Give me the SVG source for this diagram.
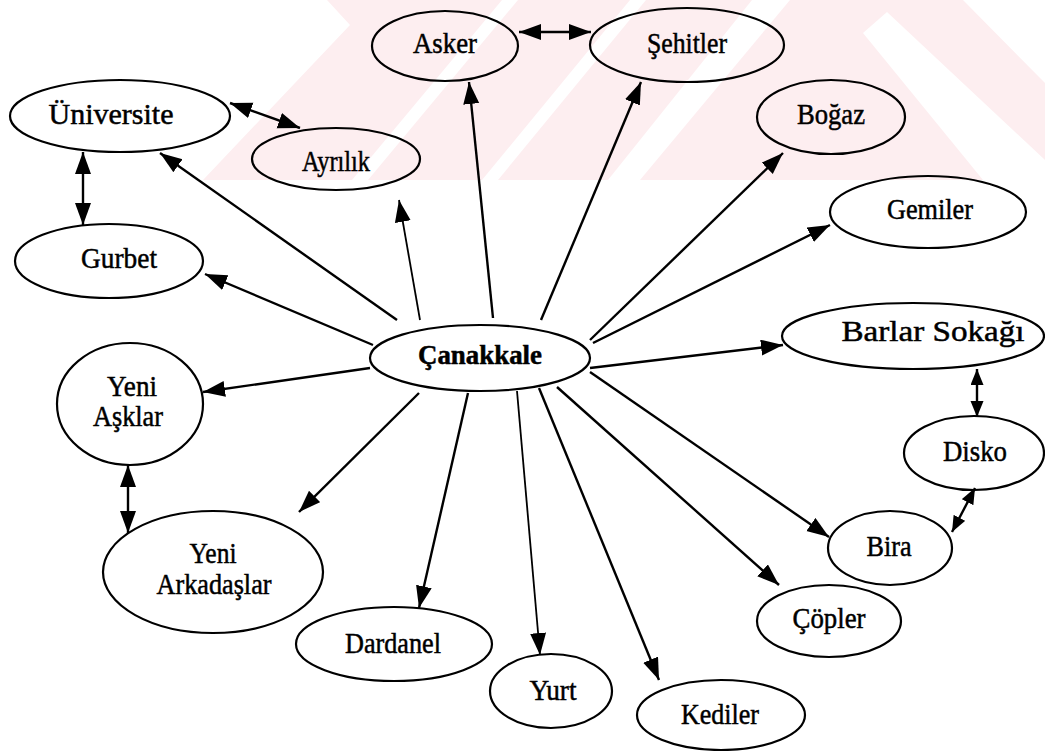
<svg xmlns="http://www.w3.org/2000/svg" width="1045" height="751" viewBox="0 0 1045 751">
<defs>
<marker id="ah" markerUnits="userSpaceOnUse" markerWidth="24" markerHeight="18" refX="22" refY="8" orient="auto-start-reverse">
<path d="M0,0 L22,8 L0,16 z" fill="#000"/>
</marker>
<marker id="ahs" markerUnits="userSpaceOnUse" markerWidth="18" markerHeight="14" refX="16" refY="6.5" orient="auto-start-reverse">
<path d="M0,0 L16,6.5 L0,13 z" fill="#000"/>
</marker>
<style>
.n ellipse{fill:none;stroke:#000;stroke-width:2.2}
.n text{font-family:"Liberation Serif","Times New Roman",serif;font-size:30px;text-anchor:middle;fill:#000;stroke:#000;stroke-width:0.5}
#conn line{stroke:#000;stroke-width:2.4;fill:none}
.one{marker-end:url(#ah)}
.two{marker-start:url(#ah);marker-end:url(#ah)}
.twos{marker-start:url(#ahs);marker-end:url(#ahs)}
</style>
</defs>
<rect width="1045" height="751" fill="#fff"/>
<g id="watermark">
<polygon points="327,0 963,0 1045,83 1045,180 203,180 350,25" fill="#fdeef0"/>
<g fill="#fff">
<polygon points="502,0 518,0 368,180 352,180"/>
<polygon points="630,0 646,0 498,180 482,180"/>
<polygon points="752,0 790,0 640,180 608,180"/>
<polygon points="887,12 1045,160 1045,180 983,180 863,33"/>
</g>
</g>
<g id="conn">
<line class="one" x1="397" y1="320" x2="160" y2="153"/>
<line class="one" x1="420" y1="320" x2="399" y2="200" style="stroke-width:1.8"/>
<line class="one" x1="493" y1="318" x2="469" y2="82"/>
<line class="one" x1="541" y1="320" x2="641" y2="82"/>
<line class="one" x1="590" y1="340" x2="783" y2="153"/>
<line class="one" x1="593" y1="343" x2="830" y2="225"/>
<line class="one" x1="373" y1="345" x2="205" y2="274"/>
<line class="one" x1="370" y1="368" x2="203" y2="392"/>
<line class="one" x1="419" y1="393" x2="299" y2="512"/>
<line class="one" x1="468" y1="393" x2="419" y2="608"/>
<line class="one" x1="517" y1="391" x2="540" y2="655" style="stroke-width:1.8"/>
<line class="one" x1="539" y1="388" x2="659" y2="680"/>
<line class="one" x1="557" y1="387" x2="779" y2="585"/>
<line class="one" x1="590" y1="372" x2="829" y2="537"/>
<line class="one" x1="590" y1="368" x2="783" y2="345"/>
<line class="two" x1="519" y1="32" x2="591" y2="32"/>
<line class="two" x1="230" y1="103" x2="300" y2="128"/>
<line class="two" x1="83" y1="152" x2="83" y2="225"/>
<line class="two" x1="128" y1="465" x2="128" y2="533"/>
<line class="twos" x1="977" y1="369" x2="977" y2="417"/>
<line class="twos" x1="952" y1="532" x2="975" y2="488"/>
</g>
<g id="canakkale" class="n"><ellipse cx="480" cy="358" rx="110" ry="33"/><text x="480" y="364" font-weight="bold" style="font-size:28px" textLength="124" lengthAdjust="spacingAndGlyphs">Çanakkale</text></g>
<g id="asker" class="n"><ellipse cx="445" cy="46" rx="73" ry="35"/><text x="445" y="53" textLength="64" lengthAdjust="spacingAndGlyphs">Asker</text></g>
<g id="sehitler" class="n"><ellipse cx="687" cy="45" rx="97" ry="37"/><text x="687" y="53" textLength="80" lengthAdjust="spacingAndGlyphs">Şehitler</text></g>
<g id="universite" class="n"><ellipse cx="120" cy="116" rx="110" ry="36"/><text x="111" y="124" textLength="125" lengthAdjust="spacingAndGlyphs">Üniversite</text></g>
<g id="ayrilik" class="n"><ellipse cx="336" cy="159" rx="84" ry="31"/><text x="336" y="171" textLength="68" lengthAdjust="spacingAndGlyphs">Ayrılık</text></g>
<g id="bogaz" class="n"><ellipse cx="831" cy="117" rx="74" ry="37"/><text x="831" y="124" textLength="68" lengthAdjust="spacingAndGlyphs">Boğaz</text></g>
<g id="gemiler" class="n"><ellipse cx="928" cy="212" rx="98" ry="36"/><text x="930" y="219" textLength="86" lengthAdjust="spacingAndGlyphs">Gemiler</text></g>
<g id="gurbet" class="n"><ellipse cx="109" cy="261" rx="94" ry="37"/><text x="119" y="268" textLength="76" lengthAdjust="spacingAndGlyphs">Gurbet</text></g>
<g id="barlar" class="n"><ellipse cx="913" cy="336" rx="131" ry="33"/><text x="933" y="341" textLength="183" lengthAdjust="spacingAndGlyphs">Barlar Sokağı</text></g>
<g id="yeniasklar" class="n"><ellipse cx="130" cy="404" rx="73" ry="61"/><text x="132" y="396" textLength="50" lengthAdjust="spacingAndGlyphs">Yeni</text><text x="128" y="426" textLength="70" lengthAdjust="spacingAndGlyphs">Aşklar</text></g>
<g id="disko" class="n"><ellipse cx="974" cy="453" rx="70" ry="37"/><text x="975" y="461" textLength="64" lengthAdjust="spacingAndGlyphs">Disko</text></g>
<g id="yeniarkadaslar" class="n"><ellipse cx="213" cy="572" rx="110" ry="61"/><text x="213" y="563" textLength="47" lengthAdjust="spacingAndGlyphs">Yeni</text><text x="214" y="594" textLength="115" lengthAdjust="spacingAndGlyphs">Arkadaşlar</text></g>
<g id="dardanel" class="n"><ellipse cx="394" cy="644" rx="98" ry="37"/><text x="393" y="653" textLength="96" lengthAdjust="spacingAndGlyphs">Dardanel</text></g>
<g id="yurt" class="n"><ellipse cx="551" cy="691" rx="61" ry="37"/><text x="553" y="700" textLength="47" lengthAdjust="spacingAndGlyphs">Yurt</text></g>
<g id="kediler" class="n"><ellipse cx="721" cy="715" rx="84" ry="35"/><text x="720" y="724" textLength="78" lengthAdjust="spacingAndGlyphs">Kediler</text></g>
<g id="copler" class="n"><ellipse cx="829" cy="621" rx="72" ry="36"/><text x="829" y="628" textLength="73" lengthAdjust="spacingAndGlyphs">Çöpler</text></g>
<g id="bira" class="n"><ellipse cx="890" cy="548" rx="62" ry="37"/><text x="889" y="556" textLength="45" lengthAdjust="spacingAndGlyphs">Bira</text></g>
</svg>
